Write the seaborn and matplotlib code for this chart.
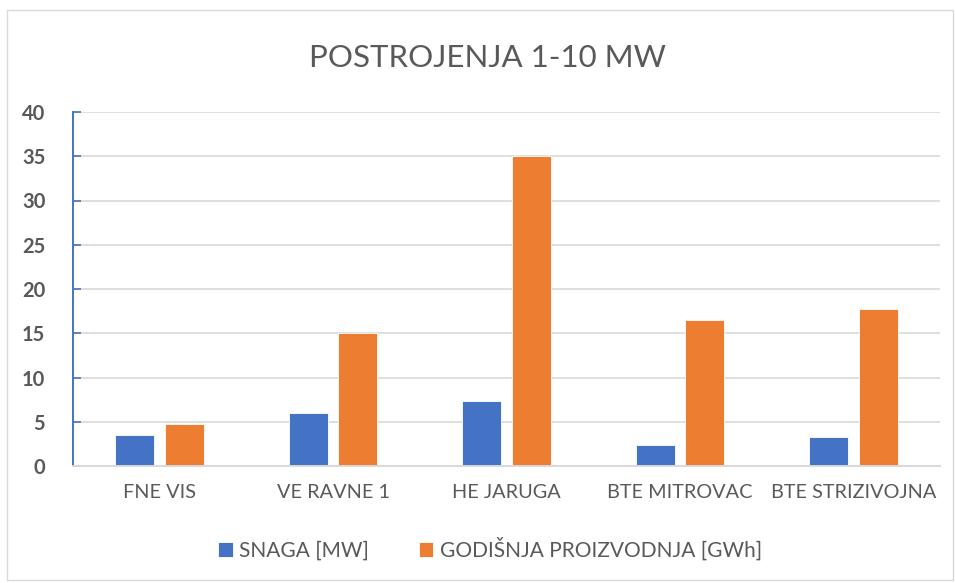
import matplotlib.pyplot as plt
import pandas as pd
import seaborn as sns
from matplotlib.patches import Rectangle

plants = ['FNE VIS', 'VE RAVNE 1', 'HE JARUGA', 'BTE MITROVAC', 'BTE STRIZIVOJNA']
snaga = [3.5, 6.0, 7.3, 2.4, 3.3]
proizvodnja = [4.8, 15.0, 35.0, 16.5, 17.7]
series = ['SNAGA [MW]', 'GODIŠNJA PROIZVODNJA [GWh]']
yticks = [0, 5, 10, 15, 20, 25, 30, 35, 40]

BLUE = '#4472C4'
ORANGE = '#ED7D31'
TEXT = '#595959'
GRID = '#D9D9D9'

df = pd.DataFrame({
  'plant': plants * 2,
  'value': snaga + proizvodnja,
  'series': [series[0]] * len(plants) + [series[1]] * len(plants),
})

sns.set_theme(style='white')
plt.rcParams['font.family'] = ['Lato', 'DejaVu Sans']

fig = plt.figure(figsize=(9.55, 5.83), dpi=100)
ax = fig.add_axes([73 / 955, 1 - 466 / 583, 867 / 955, 354 / 583])

sns.barplot(data=df, x='plant', y='value', hue='series', hue_order=series,
            palette=[BLUE, ORANGE], width=0.572, gap=0.21, ax=ax,
            edgecolor='white', linewidth=0.6, saturation=1)

ax.set_ylim(0, 40)
ax.set_yticks(yticks)
ax.set_yticklabels([str(t) for t in yticks], fontweight='bold', color=TEXT, fontsize=14.5)
ax.tick_params(axis='y', direction='in', length=6, color=BLUE, width=1.2, pad=20, left=True)
ax.tick_params(axis='x', length=0, labelsize=14.3, labelcolor=TEXT, pad=13)
ax.set_xlabel('')
ax.set_ylabel('')
ax.grid(axis='y', color=GRID, linewidth=1.2)
ax.set_axisbelow(True)
for s in ['top', 'right']:
  ax.spines[s].set_visible(False)
ax.spines['left'].set_color(BLUE)
ax.spines['left'].set_linewidth(1.4)
ax.spines['bottom'].set_color(GRID)
ax.spines['bottom'].set_linewidth(1.4)

fig.text(487 / 955, 1 - 58 / 583, 'POSTROJENJA 1-10 MW', ha='center', va='center',
         fontsize=22.5, color=TEXT)

handles, labels = ax.get_legend_handles_labels()
ax.legend(handles, labels, loc='center', bbox_to_anchor=(490 / 955, 1 - 549 / 583),
          bbox_transform=fig.transFigure, ncol=2, frameon=False, fontsize=15,
          labelcolor=TEXT, handlelength=0.7, handleheight=0.7, handletextpad=0.3,
          columnspacing=2.4)

fig.patches.append(Rectangle((7 / 955, 3 / 583), 946 / 955, 570 / 583, transform=fig.transFigure,
                             fill=False, edgecolor=GRID, linewidth=1))

fig.savefig('out.png', dpi=100, facecolor='white')
